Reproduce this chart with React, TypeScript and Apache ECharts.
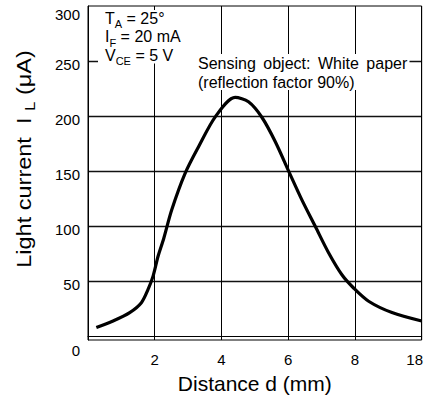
import React, { useEffect, useRef } from "react";
import * as echarts from "echarts";

// x positions on the (broken) distance axis: 0..8 mm linear, last division 8 -> 18 mm
const axisPos = [0.25, 0.75, 1.25, 1.6, 1.8, 1.95, 2.1, 2.27, 2.51, 2.91, 3.31, 3.83, 4.41, 4.81, 5.21, 5.61, 6.03, 6.41, 6.81, 7.21, 7.61, 7.96, 8.41, 9.11, 10];
// light current in µA
const lightCurrent = [8.1, 14.1, 21.7, 30.7, 42.7, 54.8, 72.8, 89, 115, 148, 172, 200, 217, 213, 199, 177, 149, 124, 100, 76, 56, 44, 32, 21.7, 14];
// x tick labels at axis positions 0,2,4,6,8,10
const xTickLabels: Record<number, string> = { 0: "", 2: "2", 4: "4", 6: "6", 8: "8", 10: "18" };
const yTickValues = [0, 50, 100, 150, 200, 250, 300];
const yGridValues = [50, 100, 150, 200, 250];

const FONT = "'Liberation Sans', Arial, Helvetica, sans-serif";

export default function App() {
  const ref = useRef<HTMLDivElement>(null);
  useEffect(() => {
    if (!ref.current) return;
    const chart = echarts.init(ref.current, null, { renderer: "svg" });
    const data = axisPos.map((x, i) => [x, lightCurrent[i]]);
    const subRich = {
      n: { fontSize: 16, fontFamily: FONT, color: "#000" },
      s: { fontSize: 11, fontFamily: FONT, color: "#000", padding: [12, 0, 0, 0] },
    };
    chart.setOption({
      animation: false,
      backgroundColor: "#fff",
      textStyle: { fontFamily: FONT },
      grid: {
        left: 88,
        right: 2,
        top: 6,
        bottom: 58,
        show: true,
        borderColor: "#000",
        borderWidth: 1,
        backgroundColor: "transparent",
      },
      xAxis: {
        type: "value",
        min: 0,
        max: 10,
        interval: 2,
        axisLine: { show: true, lineStyle: { color: "#000", width: 1 } },
        axisTick: { show: false },
        splitLine: { show: true, lineStyle: { color: "#000", width: 1 } },
        axisLabel: {
          margin: 12,
          fontSize: 15,
          color: "#000",
          fontFamily: FONT,
          formatter: (v: number) => {
            const t = xTickLabels[v] ?? "";
            if (v === 10) return "{e|" + t + "}";
            return t;
          },
          rich: {
            e: { fontSize: 15, color: "#000", fontFamily: FONT, padding: [0, 14, 0, 0] },
          },
        },
        name: "Distance d (mm)",
        nameLocation: "middle",
        nameGap: 33,
        nameTextStyle: { fontSize: 21, color: "#000", fontFamily: FONT, verticalAlign: "top" },
      },
      yAxis: {
        type: "value",
        min: -3.2,
        max: 300,
        axisLine: { show: true, lineStyle: { color: "#000", width: 1 } },
        axisTick: { show: false, customValues: yGridValues },
        splitLine: { show: true, lineStyle: { color: "#111", width: 1.3 } },
        axisLabel: {
          customValues: yTickValues,
          margin: 8,
          fontSize: 15,
          color: "#000",
          fontFamily: FONT,
          formatter: (v: number) => {
            if (v === 0) return "{z|0}";
            if (v === 300) return "{t|300}";
            return "{n|" + v + "}";
          },
          rich: {
            z: { fontSize: 15, color: "#000", fontFamily: FONT, padding: [29, 0, 0, 0] },
            t: { fontSize: 15, color: "#000", fontFamily: FONT, padding: [16, 0, 0, 0] },
            n: { fontSize: 15, color: "#000", fontFamily: FONT, padding: [6, 0, 0, 0] },
          },
        },
      },
      series: [
        {
          type: "line",
          data,
          smooth: 0.3,
          showSymbol: false,
          symbol: "none",
          lineStyle: { color: "#000", width: 3.2 },
          z: 5,
        },
      ],
      graphic: [
        { type: "rect", z: 10, shape: { x: 98, y: 10, width: 100, height: 53.5 }, style: { fill: "#fff" } },
        { type: "rect", z: 10, shape: { x: 196, y: 54, width: 213.5, height: 36 }, style: { fill: "#fff" } },
        {
          type: "text",
          z: 11,
          x: 105,
          y: 18,
          style: { text: "{n|T}{s|A}{n| = 25°}", rich: subRich, verticalAlign: "middle" },
        },
        {
          type: "text",
          z: 11,
          x: 105,
          y: 36.5,
          style: { text: "{n|I}{s|F}{n| = 20 mA}", rich: subRich, verticalAlign: "middle" },
        },
        {
          type: "text",
          z: 11,
          x: 105,
          y: 55,
          style: { text: "{n|V}{s|CE}{n| = 5 V}", rich: subRich, verticalAlign: "middle" },
        },
        {
          type: "text",
          z: 11,
          x: 198,
          y: 63.5,
          style: {
            text: "{w|Sensing}{g| }{w|object:}{g| }{w|White}{g| }{w|paper}",
            rich: {
              w: { fontSize: 16, fontFamily: FONT, color: "#000" },
              g: { fontSize: 16, fontFamily: FONT, color: "#000", width: 7.5 },
            },
            verticalAlign: "middle",
          },
        },
        {
          type: "text",
          z: 11,
          x: 198,
          y: 82,
          style: {
            text: "(reflection factor 90%)",
            fontSize: 16,
            fontFamily: FONT,
            fill: "#000",
            verticalAlign: "middle",
          },
        },
        {
          type: "text",
          z: 11,
          x: 24,
          y: 159,
          rotation: Math.PI / 2,
          scaleX: 1.12,
          style: {
            text: "{n|Light current  I }{s|L}{n| (μA)}",
            rich: {
              n: { fontSize: 21, fontFamily: FONT, color: "#000" },
              s: { fontSize: 15, fontFamily: FONT, color: "#000", padding: [12, 0, 0, 0] },
            },
            align: "center",
            verticalAlign: "middle",
          },
        },
      ],
    });
    return () => chart.dispose();
  }, []);
  return <div ref={ref} style={{ width: 426, height: 399, position: "absolute", left: 0, top: 0 }} />;
}
